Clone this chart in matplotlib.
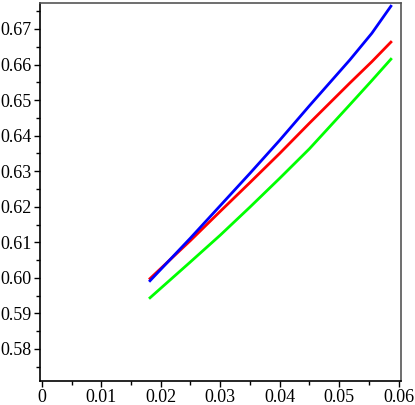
import numpy as np
import matplotlib.pyplot as plt
from matplotlib.ticker import MultipleLocator

# values
x_vals = [0.0182, 0.025, 0.030, 0.035, 0.040, 0.045, 0.0518, 0.0555, 0.0587]
blue_vals = [0.5992, 0.6112, 0.6203, 0.6294, 0.6387, 0.6484, 0.6613, 0.6688, 0.6764]
red_vals = [0.5998, 0.6105, 0.6187, 0.6268, 0.6350, 0.6435, 0.6548, 0.6608, 0.6663]
green_vals = [0.5944, 0.6045, 0.6120, 0.6199, 0.6280, 0.6363, 0.6487, 0.6555, 0.6615]

x_ticks = [0, 0.01, 0.02, 0.03, 0.04, 0.05, 0.06]
x_labels = ["0", "0.01", "0.02", "0.03", "0.04", "0.05", "0.06"]
y_ticks = [0.58, 0.59, 0.60, 0.61, 0.62, 0.63, 0.64, 0.65, 0.66, 0.67]

plt.rcParams['font.family'] = ['Liberation Serif', 'DejaVu Serif']

fig = plt.figure(figsize=(4.15, 4.05), dpi=100)
ax = fig.add_axes([40 / 415, 24 / 405, 361 / 415, 378 / 405])

ax.plot(x_vals, green_vals, color='#00ff00', linewidth=2.0)
ax.plot(x_vals, red_vals, color='#ff0000', linewidth=2.0)
ax.plot(x_vals, blue_vals, color='#0000ff', linewidth=2.0)

ax.set_xlim(-0.0003, 0.0604)
ax.set_ylim(0.571, 0.6773)

ax.set_xticks(x_ticks)
ax.set_xticklabels(x_labels)
ax.set_yticks(y_ticks)
ax.set_yticklabels(["%.2f" % v for v in y_ticks])
ax.xaxis.set_minor_locator(MultipleLocator(0.005))
ax.yaxis.set_minor_locator(MultipleLocator(0.005))

ax.tick_params(which='major', direction='out', length=4, width=1, labelsize=13, pad=2)
ax.tick_params(which='minor', direction='out', length=3, width=1)
ax.tick_params(top=False, right=False)

for side in ['left', 'bottom']:
    ax.spines[side].set_color('black')
    ax.spines[side].set_linewidth(1.2)
for side in ['top', 'right']:
    ax.spines[side].set_color('#555555')
    ax.spines[side].set_linewidth(1.2)

plt.savefig('out.png', dpi=100)
